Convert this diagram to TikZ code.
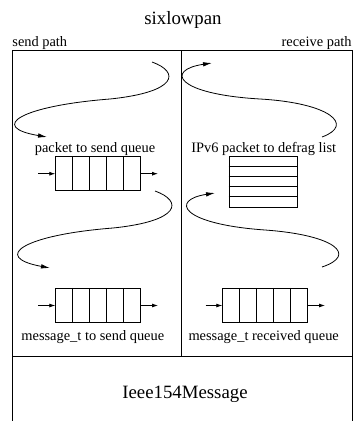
\documentclass[tikz,border=0pt]{standalone}
\usepackage{fontspec}
\setmainfont{Liberation Serif}
\usetikzlibrary{arrows.meta}
\begin{document}
\begin{tikzpicture}[x=1pt,y=-1pt,line width=0.8pt,
  small/.style={font=\fontsize{14.4}{16}\selectfont,inner sep=0pt},
  big/.style={font=\fontsize{18.8}{21}\selectfont,inner sep=0pt},
  queue/.style={draw,minimum width=85pt,minimum height=34pt,inner sep=0pt},
  flow/.style={-{Latex[length=9pt,width=4.5pt]}},
  feed/.style={-{Latex[length=6pt,width=4pt]}}]
\useasboundingbox (0,0) rectangle (354,421);

% outer frame and the two halves
\draw (12,421) -- (12,50) -- (352,50) -- (352,421);
\draw (181.7,50) -- (181.7,356.7);
\draw (12,356.7) -- (352,356.7);

% titles
\node[big,anchor=base] (title) at (183,24) {sixlowpan};
\node[small,anchor=base west] (send) at (12,46.7) {send path};
\node[small,anchor=base east] (recv) at (352,46.7) {receive path};
\node[big,anchor=base] (ieee) at (185,398) {Ieee154Message};

% send queue of packets
\node[small,anchor=base] (l1) at (95,152) {packet to send queue};
\node[queue] (q1) at (98.2,173.7) {};
\foreach \i in {1,...,4}
  \draw ([xshift=17*\i pt]q1.north west) -- ([xshift=17*\i pt]q1.south west);
\coordinate (q1in) at (38,173.7);
\coordinate (q1out) at (158,173.7);
\draw[feed] (q1in) -- (q1.west);
\draw[feed] (q1.east) -- (q1out);

% defragmentation list
\node[small,anchor=base] (l2) at (263.8,152) {IPv6 packet to defrag list};
\node[draw,minimum width=68.3pt,minimum height=51.3pt,inner sep=0pt] (dl) at (263.2,181.7) {};
\foreach \i in {1,...,4}
  \draw ([yshift=-10.26*\i pt]dl.north west) -- ([yshift=-10.26*\i pt]dl.north east);

% message_t send queue
\node[queue,minimum height=34.4pt] (q2) at (98.2,305.5) {};
\foreach \i in {1,...,4}
  \draw ([xshift=17*\i pt]q2.north west) -- ([xshift=17*\i pt]q2.south west);
\coordinate (q2in) at (38,305.5);
\coordinate (q2out) at (158,305.5);
\draw[feed] (q2in) -- (q2.west);
\draw[feed] (q2.east) -- (q2out);
\node[small,anchor=base] (l3) at (92.8,340) {message\_t to send queue};

% message_t received queue
\node[queue,minimum width=84.6pt,minimum height=34.4pt] (q3) at (265,305.5) {};
\foreach \i in {1,...,4}
  \draw ([xshift=16.92*\i pt]q3.north west) -- ([xshift=16.92*\i pt]q3.south west);
\coordinate (q3in) at (205.7,305.5);
\coordinate (q3out) at (325,305.5);
\draw[feed] (q3in) -- (q3.west);
\draw[feed] (q3.east) -- (q3out);
\node[small,anchor=base] (l4) at (263.7,340) {message\_t received queue};

% flow arrows on the send side
\coordinate (s1a) at (152,62);
\coordinate (s1b) at (47,137);
\draw[flow] (s1a) .. controls (180,72) and (178,92) .. (110,99)
                  .. controls (20,106) and (-12,127) .. (s1b);
\coordinate (s2a) at (155,191);
\coordinate (s2b) at (50,268);
\draw[flow] (s2a) .. controls (183,201) and (181,221) .. (113,228)
                  .. controls (23,235) and (-9,257) .. (s2b);

% flow arrows on the receive side
\coordinate (r1a) at (322,137);
\coordinate (r1b) at (212,63);
\draw[flow] (r1a) .. controls (355,125) and (330,103) .. (260,99)
                  .. controls (175,94) and (165,70) .. (r1b);
\coordinate (r2a) at (322,267);
\coordinate (r2b) at (215,193);
\draw[flow] (r2a) .. controls (358,255) and (335,235) .. (265,230)
                  .. controls (180,224) and (170,200) .. (r2b);
\end{tikzpicture}
\end{document}
